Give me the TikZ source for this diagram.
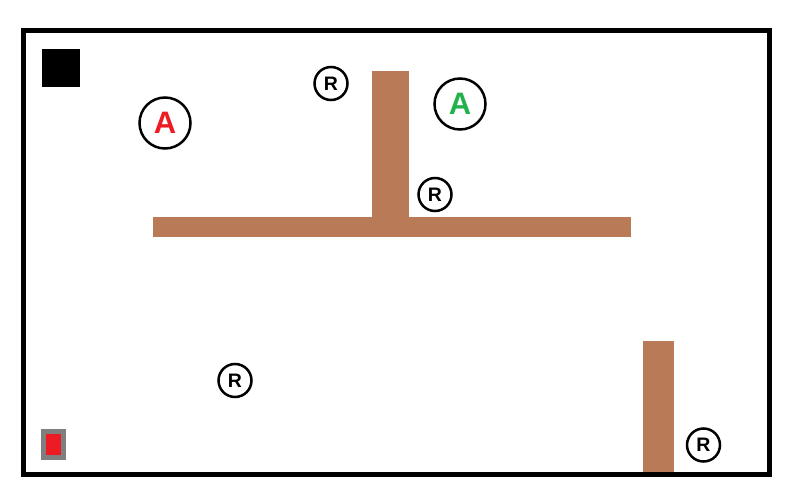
\documentclass[tikz,border=0pt]{standalone}
\usepackage{fontspec}
\setmainfont{Liberation Sans}
\definecolor{wallbrown}{RGB}{185,122,87}
\definecolor{agentred}{RGB}{237,28,36}
\definecolor{agentgreen}{RGB}{34,177,76}
\definecolor{dockgray}{RGB}{127,127,127}

\begin{document}
\begin{tikzpicture}[x=1pt,y=-1pt,
  wall/.style={fill=wallbrown, draw=none},
  agent/.style={circle, draw=black, line width=2.5pt, minimum size=51pt, inner sep=0pt, font=\fontsize{31}{31}\selectfont\bfseries},
  robot/.style={circle, draw=black, line width=2.5pt, minimum size=33pt, inner sep=0pt, font=\fontsize{19.5}{19.5}\selectfont\bfseries}]
\useasboundingbox (0,0) rectangle (800,500);
\fill[white] (0,0) rectangle (800,500);
% arena frame
\draw[line width=5pt] (23,30.5) rectangle (769,474);
% walls
\fill[wall] (372,71) rectangle (409,217);
\fill[wall] (153,217) rectangle (631,237);
\fill[wall] (643,341) rectangle (674,472);
% goal and charger
\fill[black] (42,49) rectangle (80,87);
\draw[draw=dockgray, fill=agentred, line width=5pt] (43.5,431.5) rectangle (63.5,457.5);
% agents
\node[agent, text=agentred] (agentA1) at (165,123) {A};
\node[agent, text=agentgreen] (agentA2) at (460,104) {A};
% robots
\node[robot] (robot1) at (331,83.5) {R};
\node[robot] (robot2) at (435,194.5) {R};
\node[robot] (robot3) at (235,380.5) {R};
\node[robot] (robot4) at (703.5,445) {R};
\end{tikzpicture}
\end{document}
